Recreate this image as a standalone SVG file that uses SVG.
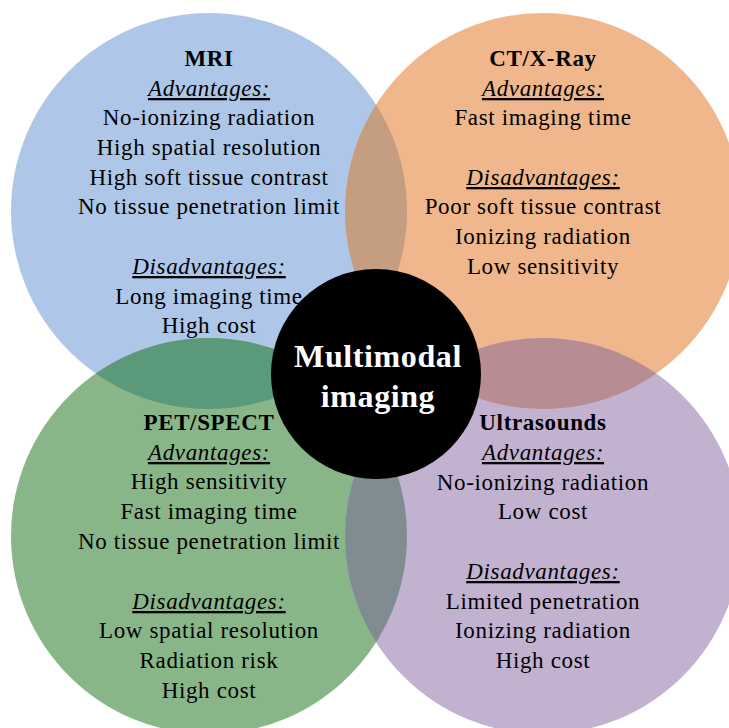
<svg xmlns="http://www.w3.org/2000/svg" width="729" height="728" viewBox="0 0 729 728">
  <defs>
    <clipPath id="clip-mri"><circle cx="209" cy="211" r="198"/></clipPath>
    <clipPath id="clip-ct"><circle cx="543" cy="211" r="198"/></clipPath>
    <clipPath id="clip-pet"><circle cx="209" cy="536" r="198"/></clipPath>
    <clipPath id="clip-us"><circle cx="543" cy="536" r="198"/></clipPath>
  </defs>
  <style>
    text { font-family: "Liberation Serif", "Times New Roman", serif; font-size: 23px; fill: #000; text-anchor: middle; letter-spacing: 0.65px; }
    .title { font-weight: bold; }
    .head { font-style: italic; text-decoration: underline; }
    .hub { fill: #fff; font-weight: bold; font-size: 32px; letter-spacing: 0.6px; }
  </style>
  <rect width="729" height="728" fill="#fff"/>

  <!-- modality discs -->
  <g id="discs">
    <circle cx="209" cy="211" r="198" fill="#AEC7E8"/>
    <circle cx="543" cy="211" r="198" fill="#EFB78B"/>
    <circle cx="209" cy="536" r="198" fill="#89B689"/>
    <circle cx="543" cy="536" r="198" fill="#C2B2D0"/>
  </g>

  <!-- lens-shaped overlaps between neighbouring discs -->
  <g id="overlaps">
    <circle cx="543" cy="211" r="198" fill="#C59E81" clip-path="url(#clip-mri)"/>
    <circle cx="209" cy="536" r="198" fill="#5B997B" clip-path="url(#clip-mri)"/>
    <circle cx="543" cy="536" r="198" fill="#B78D92" clip-path="url(#clip-ct)"/>
    <circle cx="543" cy="536" r="198" fill="#808C90" clip-path="url(#clip-pet)"/>
  </g>

  <g id="connectors"/>

  <g id="mri">
    <text class="title" x="209" y="66">MRI</text>
    <text class="head" x="209" y="96">Advantages:</text>
    <text x="209" y="125">No-ionizing radiation</text>
    <text x="209" y="155">High spatial resolution</text>
    <text x="209" y="185">High soft tissue contrast</text>
    <text x="209" y="214">No tissue penetration limit</text>
    <text class="head" x="209" y="274">Disadvantages:</text>
    <text x="209" y="304">Long imaging time</text>
    <text x="209" y="333">High cost</text>
  </g>

  <g id="ct">
    <text class="title" x="543" y="66">CT/X-Ray</text>
    <text class="head" x="543" y="96">Advantages:</text>
    <text x="543" y="125">Fast imaging time</text>
    <text class="head" x="543" y="185">Disadvantages:</text>
    <text x="543" y="214">Poor soft tissue contrast</text>
    <text x="543" y="244">Ionizing radiation</text>
    <text x="543" y="274">Low sensitivity</text>
  </g>

  <g id="pet">
    <text class="title" x="209" y="430">PET/SPECT</text>
    <text class="head" x="209" y="460">Advantages:</text>
    <text x="209" y="489">High sensitivity</text>
    <text x="209" y="519">Fast imaging time</text>
    <text x="209" y="549">No tissue penetration limit</text>
    <text class="head" x="209" y="609">Disadvantages:</text>
    <text x="209" y="638">Low spatial resolution</text>
    <text x="209" y="668">Radiation risk</text>
    <text x="209" y="698">High cost</text>
  </g>

  <g id="us">
    <text class="title" x="543" y="430">Ultrasounds</text>
    <text class="head" x="543" y="460">Advantages:</text>
    <text x="543" y="490">No-ionizing radiation</text>
    <text x="543" y="519">Low cost</text>
    <text class="head" x="543" y="579">Disadvantages:</text>
    <text x="543" y="609">Limited penetration</text>
    <text x="543" y="638">Ionizing radiation</text>
    <text x="543" y="668">High cost</text>
  </g>

  <g id="center">
    <circle cx="376" cy="374" r="105" fill="#000"/>
    <text class="hub" x="378" y="367">Multimodal</text>
    <text class="hub" x="378" y="407">imaging</text>
  </g>
</svg>
